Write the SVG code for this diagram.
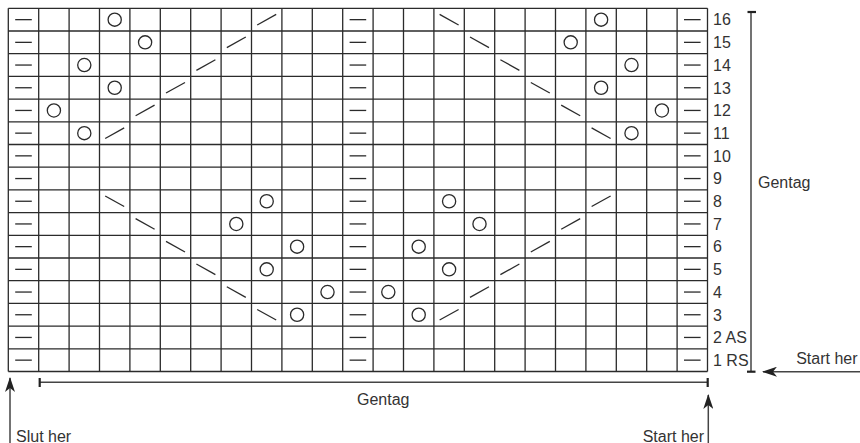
<svg xmlns="http://www.w3.org/2000/svg" xmlns:xlink="http://www.w3.org/1999/xlink" width="860" height="443" viewBox="0 0 860 443">
<style>
.grid{fill:none;stroke:#2b2b2b;stroke-width:1.3}
.sym{fill:none;stroke:#2b2b2b;stroke-width:1.3}
.br{fill:none;stroke:#444;stroke-width:1.5}
.tk{fill:none;stroke:#222;stroke-width:2.2}
.lbl{font-family:"Liberation Sans",Arial,sans-serif;font-size:16px;fill:#333}
.txt{font-family:"Liberation Sans",Arial,sans-serif;font-size:16px;fill:#333}
</style>
<defs>
<g id="d"><line class="sym" x1="-8.3" y1="0" x2="8.3" y2="0"/></g>
<g id="o"><circle class="sym" cx="0" cy="0" r="6.6"/></g>
<g id="s"><line class="sym" x1="-9.5" y1="5.3" x2="9.5" y2="-5.3"/></g>
<g id="b"><line class="sym" x1="-9.5" y1="-5.3" x2="9.5" y2="5.3"/></g>
<marker id="arr" viewBox="0 0 15 10" refX="14" refY="5" markerWidth="15" markerHeight="10" markerUnits="userSpaceOnUse" orient="auto">
<path d="M0 0L15 5L0 10L4 5Z" fill="#222"/>
</marker>
</defs>
<rect width="860" height="443" fill="#fff"/>
<g id="grid">
<path class="grid" d="M8.3 8.3V371.5M38.7 8.3V371.5M69.1 8.3V371.5M99.5 8.3V371.5M129.9 8.3V371.5M160.3 8.3V371.5M190.7 8.3V371.5M221.1 8.3V371.5M251.5 8.3V371.5M281.9 8.3V371.5M312.3 8.3V371.5M342.7 8.3V371.5M373.1 8.3V371.5M403.5 8.3V371.5M433.9 8.3V371.5M464.3 8.3V371.5M494.7 8.3V371.5M525.1 8.3V371.5M555.5 8.3V371.5M585.9 8.3V371.5M616.3 8.3V371.5M646.7 8.3V371.5M677.1 8.3V371.5M707.5 8.3V371.5"/>
<path class="grid" d="M8.3 8.3H707.5M8.3 31H707.5M8.3 53.7H707.5M8.3 76.4H707.5M8.3 99.1H707.5M8.3 121.8H707.5M8.3 144.5H707.5M8.3 167.2H707.5M8.3 189.9H707.5M8.3 212.6H707.5M8.3 235.3H707.5M8.3 258H707.5M8.3 280.7H707.5M8.3 303.4H707.5M8.3 326.1H707.5M8.3 348.8H707.5M8.3 371.5H707.5"/>
</g>
<g id="purl-columns">
<use href="#d" x="23.5" y="19.65"/><use href="#d" x="23.5" y="42.35"/><use href="#d" x="23.5" y="65.05"/><use href="#d" x="23.5" y="87.75"/><use href="#d" x="23.5" y="110.45"/><use href="#d" x="23.5" y="133.15"/><use href="#d" x="23.5" y="155.85"/><use href="#d" x="23.5" y="178.55"/><use href="#d" x="23.5" y="201.25"/><use href="#d" x="23.5" y="223.95"/><use href="#d" x="23.5" y="246.65"/><use href="#d" x="23.5" y="269.35"/><use href="#d" x="23.5" y="292.05"/><use href="#d" x="23.5" y="314.75"/><use href="#d" x="23.5" y="337.45"/><use href="#d" x="23.5" y="360.15"/>
<use href="#d" x="357.9" y="19.65"/><use href="#d" x="357.9" y="42.35"/><use href="#d" x="357.9" y="65.05"/><use href="#d" x="357.9" y="87.75"/><use href="#d" x="357.9" y="110.45"/><use href="#d" x="357.9" y="133.15"/><use href="#d" x="357.9" y="155.85"/><use href="#d" x="357.9" y="178.55"/><use href="#d" x="357.9" y="201.25"/><use href="#d" x="357.9" y="223.95"/><use href="#d" x="357.9" y="246.65"/><use href="#d" x="357.9" y="269.35"/><use href="#d" x="357.9" y="292.05"/><use href="#d" x="357.9" y="314.75"/><use href="#d" x="357.9" y="337.45"/><use href="#d" x="357.9" y="360.15"/>
<use href="#d" x="692.3" y="19.65"/><use href="#d" x="692.3" y="42.35"/><use href="#d" x="692.3" y="65.05"/><use href="#d" x="692.3" y="87.75"/><use href="#d" x="692.3" y="110.45"/><use href="#d" x="692.3" y="133.15"/><use href="#d" x="692.3" y="155.85"/><use href="#d" x="692.3" y="178.55"/><use href="#d" x="692.3" y="201.25"/><use href="#d" x="692.3" y="223.95"/><use href="#d" x="692.3" y="246.65"/><use href="#d" x="692.3" y="269.35"/><use href="#d" x="692.3" y="292.05"/><use href="#d" x="692.3" y="314.75"/><use href="#d" x="692.3" y="337.45"/><use href="#d" x="692.3" y="360.15"/>
</g>
<g id="upper-motif">
<use href="#o" x="114.7" y="19.65"/><use href="#s" x="266.7" y="19.65"/><use href="#b" x="449.1" y="19.65"/><use href="#o" x="601.1" y="19.65"/>
<use href="#o" x="145.1" y="42.35"/><use href="#s" x="236.3" y="42.35"/><use href="#b" x="479.5" y="42.35"/><use href="#o" x="570.7" y="42.35"/>
<use href="#o" x="84.3" y="65.05"/><use href="#s" x="205.9" y="65.05"/><use href="#b" x="509.9" y="65.05"/><use href="#o" x="631.5" y="65.05"/>
<use href="#o" x="114.7" y="87.75"/><use href="#s" x="175.5" y="87.75"/><use href="#b" x="540.3" y="87.75"/><use href="#o" x="601.1" y="87.75"/>
<use href="#o" x="53.9" y="110.45"/><use href="#s" x="145.1" y="110.45"/><use href="#b" x="570.7" y="110.45"/><use href="#o" x="661.9" y="110.45"/>
<use href="#o" x="84.3" y="133.15"/><use href="#s" x="114.7" y="133.15"/><use href="#b" x="601.1" y="133.15"/><use href="#o" x="631.5" y="133.15"/>
</g>
<g id="lower-motif">
<use href="#b" x="114.7" y="201.25"/><use href="#o" x="266.7" y="201.25"/><use href="#o" x="449.1" y="201.25"/><use href="#s" x="601.1" y="201.25"/>
<use href="#b" x="145.1" y="223.95"/><use href="#o" x="236.3" y="223.95"/><use href="#o" x="479.5" y="223.95"/><use href="#s" x="570.7" y="223.95"/>
<use href="#b" x="175.5" y="246.65"/><use href="#o" x="297.1" y="246.65"/><use href="#o" x="418.7" y="246.65"/><use href="#s" x="540.3" y="246.65"/>
<use href="#b" x="205.9" y="269.35"/><use href="#o" x="266.7" y="269.35"/><use href="#o" x="449.1" y="269.35"/><use href="#s" x="509.9" y="269.35"/>
<use href="#b" x="236.3" y="292.05"/><use href="#o" x="327.5" y="292.05"/><use href="#o" x="388.3" y="292.05"/><use href="#s" x="479.5" y="292.05"/>
<use href="#b" x="266.7" y="314.75"/><use href="#o" x="297.1" y="314.75"/><use href="#o" x="418.7" y="314.75"/><use href="#s" x="449.1" y="314.75"/>
</g>
<g id="row-labels">
<text class="lbl" x="713" y="25.4">16</text>
<text class="lbl" x="713" y="48.1">15</text>
<text class="lbl" x="713" y="70.8">14</text>
<text class="lbl" x="713" y="93.5">13</text>
<text class="lbl" x="713" y="116.2">12</text>
<text class="lbl" x="713" y="138.9">11</text>
<text class="lbl" x="713" y="161.6">10</text>
<text class="lbl" x="713" y="184.3">9</text>
<text class="lbl" x="713" y="207">8</text>
<text class="lbl" x="713" y="229.7">7</text>
<text class="lbl" x="713" y="252.4">6</text>
<text class="lbl" x="713" y="275.1">5</text>
<text class="lbl" x="713" y="297.8">4</text>
<text class="lbl" x="713" y="320.5">3</text>
<text class="lbl" x="713" y="343.2">2 AS</text>
<text class="lbl" x="713" y="365.9">1 RS</text>
</g>
<g id="repeat-vertical">
<line class="br" x1="751" y1="12" x2="751" y2="371.7"/>
<line class="tk" x1="747.5" y1="12" x2="756" y2="12"/>
<line class="tk" x1="747" y1="371.7" x2="755.5" y2="371.7"/>
<text class="txt" x="758" y="187.5">Gentag</text>
</g>
<g id="repeat-horizontal">
<line class="br" x1="39.7" y1="382.3" x2="707.7" y2="382.3"/>
<line class="tk" x1="39.7" y1="378" x2="39.7" y2="387"/>
<line class="tk" x1="707.7" y1="378" x2="707.7" y2="387"/>
<text class="txt" x="357" y="405">Gentag</text>
</g>
<g id="connectors">
<line class="br" x1="860" y1="371.7" x2="763" y2="371.7" marker-end="url(#arr)"/>
<line class="br" x1="10" y1="443" x2="10" y2="378" marker-end="url(#arr)"/>
<line class="br" x1="708.3" y1="443" x2="708.3" y2="395" marker-end="url(#arr)"/>
</g>
<g id="start-right"><text class="txt" x="857.5" y="364" text-anchor="end">Start her</text></g>
<g id="slut"><text class="txt" x="16" y="441.5">Slut her</text></g>
<g id="start-bottom"><text class="txt" x="704" y="441.5" text-anchor="end">Start her</text></g>
</svg>
